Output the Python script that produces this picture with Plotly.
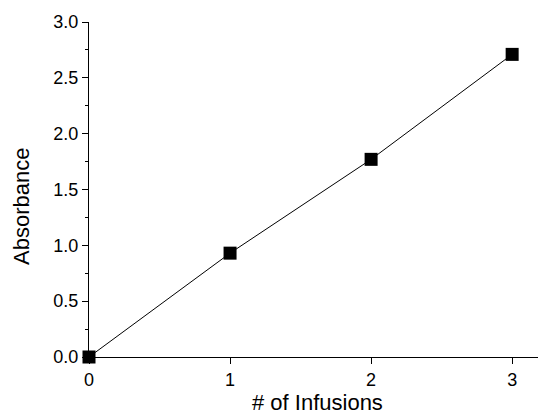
import plotly.graph_objects as go

infusions = [0, 1, 2, 3]
absorbance = [0.0, 0.93, 1.77, 2.71]

fig = go.Figure()
fig.add_trace(go.Scatter(
    x=infusions, y=absorbance, mode="lines+markers",
    line=dict(color="black", width=1),
    marker=dict(symbol="square", size=13, color="black"),
    cliponaxis=False, showlegend=False,
))

font = "Liberation Sans, Arial, sans-serif"
fig.update_layout(
    width=538, height=409,
    margin=dict(l=81, r=0, t=14, b=60, pad=0),
    paper_bgcolor="white", plot_bgcolor="white",
    font=dict(family=font, color="black", size=18),
    xaxis=dict(
        range=[0, 3.24], tickvals=[0, 1, 2, 3], ticktext=["0", "1", "2", "3"],
        showline=True, linecolor="black", linewidth=1,
        ticks="outside", ticklen=6, tickcolor="black",
        tickfont=dict(size=18),
        showgrid=False, zeroline=False,
    ),
    yaxis=dict(
        range=[0, 3.0], tickvals=[0, 0.5, 1.0, 1.5, 2.0, 2.5, 3.0],
        ticktext=["0.0", "0.5", "1.0", "1.5", "2.0", "2.5", "3.0"],
        showline=True, linecolor="black", linewidth=1,
        ticks="outside", ticklen=6, tickcolor="black",
        tickfont=dict(size=18),
        minor=dict(tickvals=[0.25, 0.75, 1.25, 1.75, 2.25, 2.75], ticks="outside", ticklen=3, tickcolor="black"),
        showgrid=False, zeroline=False,
    ),
    annotations=[
        dict(text="# of Infusions", xref="paper", yref="paper", x=0.5, y=-0.137,
             xanchor="center", yanchor="middle", showarrow=False, font=dict(size=22)),
        dict(text="Absorbance", xref="paper", yref="paper", x=-0.1466, y=0.448,
             xanchor="center", yanchor="middle", textangle=-90, showarrow=False, font=dict(size=22)),
    ],
)

fig.write_html("out.html")
